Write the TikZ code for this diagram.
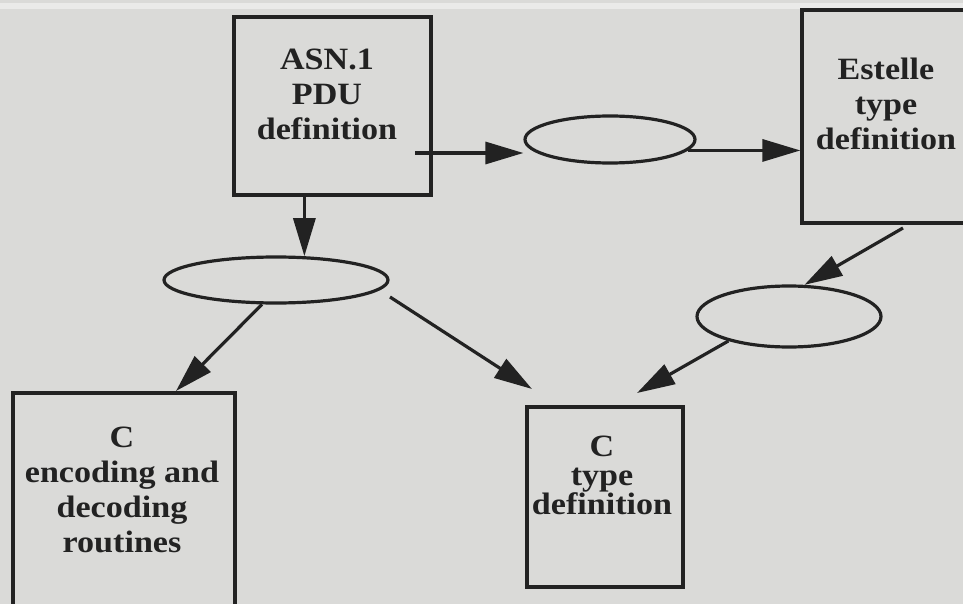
\documentclass[tikz,border=0pt]{standalone}
\usepackage{fontspec}
\setmainfont{Liberation Serif}[FakeStretch=1.1]
\usetikzlibrary{arrows.meta,shapes.geometric}
\definecolor{paper}{RGB}{218,218,216}
\definecolor{ink}{RGB}{34,34,34}
\begin{document}
\begin{tikzpicture}[x=1pt,y=-1pt,
  box/.style={draw=ink,line width=3.2pt,inner sep=0pt,rectangle},
  ell/.style={draw=ink,line width=3.2pt,inner sep=0pt,ellipse},
  lbl/.style={font=\bfseries\fontsize{31}{35}\selectfont,text=ink,
              align=center,inner sep=0pt,anchor=north},
  arr/.style={draw=ink,line width=3.2pt,
              -{Triangle[length=38pt,width=22pt]}}]
  \useasboundingbox (0,0) rectangle (963,604);
  \clip (0,0) rectangle (963,604);
  % paper
  \fill[paper] (0,0) rectangle (963,604);
  \fill[white,opacity=0.45] (0,3) rectangle (963,9);

  % boxes
  \node[box,minimum width=197pt,minimum height=178pt] (asn) at (332.5,106) {};
  \node[box,minimum width=183pt,minimum height=213pt] (est) at (893.5,116.5) {};
  \node[box,minimum width=222pt,minimum height=232pt] (enc) at (124,509) {};
  \node[box,minimum width=156pt,minimum height=180pt] (ctype) at (605,497) {};

  % box texts
  \node[lbl] (asn-t) at (327,49) {ASN.1\\PDU\\definition};
  \node[lbl] (est-t) at (886,58) {Estelle\\type\\definition};
  \node[lbl] (enc-t) at (122,427) {C\\encoding and\\decoding\\routines};
  \node[lbl,font=\bfseries\fontsize{31}{29}\selectfont] (ct-t) at (602,436)
        {C\\type\\definition};

  % ellipses
  \node[ell,minimum width=224pt,minimum height=46pt] (e1) at (276,280) {};
  \node[ell,minimum width=170pt,minimum height=47pt] (e2) at (610,139.5) {};
  \node[ell,minimum width=184pt,minimum height=61pt] (e3) at (789,316.5) {};

  % loose connector ends
  \coordinate (asnout) at (415,153);
  \coordinate (encin) at (176,391);
  \coordinate (e1out) at (390,297);
  \coordinate (ctin1) at (532,389);
  \coordinate (estout) at (903,228);
  \coordinate (ctin2) at (637,393);

  % connectors
  \draw[arr] (asnout) -- (asnout -| e2.west);
  \draw[arr] (e2.-8) -- (e2.-8 -| est.west);
  \draw[arr] (asn.south -| e1.40) -- (e1.40);
  \draw[arr] (e1.240) -- (encin);
  \draw[arr] (e1out) -- (ctin1);
  \draw[arr] (estout) -- (e3.64);
  \draw[arr] (e3.202) -- (ctin2);
\end{tikzpicture}
\end{document}
